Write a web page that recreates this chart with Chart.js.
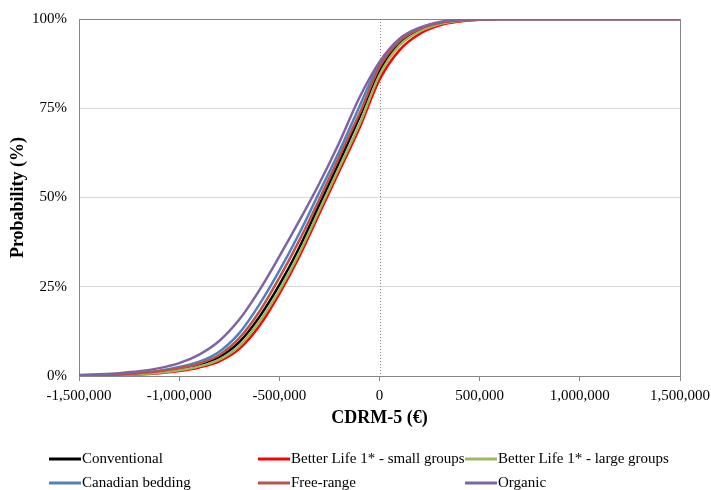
<!DOCTYPE html>
<html>
<head>
<meta charset="utf-8">
<script src="https://cdn.jsdelivr.net/npm/chart.js@4.4.1/dist/chart.umd.min.js"></script>
<style>
  html, body { margin: 0; padding: 0; background: #fff; }
  #wrap { width: 711px; height: 490px; }
</style>
</head>
<body>
<div id="wrap"><canvas id="grafico" width="711" height="490"></canvas></div>
<script>
// CDRM-5 (€) en el eje x, probabilidad acumulada (%) en el eje y
const xValues = [-1500000, -1400000, -1300000, -1200000, -1100000, -1000000, -900000, -800000,
  -700000, -600000, -500000, -400000, -300000, -200000, -100000, 0, 100000, 200000, 300000,
  400000, 500000, 600000, 1500000];

const conventional = [0.1, 0.2, 0.4, 0.7, 1.2, 2.0, 3.2, 5.3, 9.5, 16.5, 25.5, 36, 48, 60, 72.5, 85.5, 93.3, 96.8, 98.8, 99.6, 99.9, 100, 100];
const blSmall = [0.05, 0.1, 0.2, 0.4, 0.8, 1.4, 2.4, 4.1, 7.6, 14, 23, 33.5, 45.5, 57.5, 69.5, 83, 91.3, 95.8, 98.2, 99.3, 99.8, 100, 100];
const blLarge = [0.05, 0.1, 0.3, 0.5, 0.9, 1.6, 2.7, 4.6, 8.4, 15.2, 24, 34.5, 46.5, 58.5, 70.5, 84.3, 92.6, 96.5, 98.6, 99.5, 99.9, 100, 100];
const canadian = [0.15, 0.3, 0.5, 0.9, 1.5, 2.5, 4.0, 6.8, 12, 20, 29.5, 40, 51.5, 63, 75.5, 87.5, 94, 97.3, 99, 99.7, 99.9, 100, 100];
const freeRange = [0.1, 0.2, 0.4, 0.8, 1.3, 2.2, 3.5, 5.9, 10.6, 18, 27.5, 38, 49.5, 61.5, 73.5, 86.5, 93.8, 97.2, 98.9, 99.6, 99.9, 100, 100];
const organic = [0.3, 0.5, 0.8, 1.3, 2.2, 3.6, 6.0, 9.8, 15.8, 24, 33.5, 43.5, 54, 65.5, 78, 88, 94.5, 97.6, 99.2, 99.8, 100, 100, 100];

const seriesNames = ['Conventional', 'Better Life 1* - small groups', 'Better Life 1* - large groups',
  'Canadian bedding', 'Free-range', 'Organic'];
const seriesValues = [conventional, blSmall, blLarge, canadian, freeRange, organic];
const seriesColors = ['#000000', '#ff0000', '#9bbb59', '#4f81bd', '#c0504d', '#8064a2'];

const xTicks = [-1500000, -1000000, -500000, 0, 500000, 1000000, 1500000];
const yTicks = [0, 25, 50, 75, 100];

const FONT = "'Liberation Serif', 'Times New Roman', serif";

// línea punteada en x = 0, borde derecho y leyenda en 3 columnas
const extras = {
  id: 'extras',
  beforeDatasetsDraw(chart) {
    const { ctx, chartArea, scales } = chart;
    const x0 = scales.x.getPixelForValue(0);
    ctx.save();
    ctx.strokeStyle = '#808080';
    ctx.lineWidth = 1;
    ctx.setLineDash([1, 2]);
    ctx.beginPath();
    ctx.moveTo(Math.round(x0) + 0.5, chartArea.top);
    ctx.lineTo(Math.round(x0) + 0.5, chartArea.bottom);
    ctx.stroke();
    ctx.setLineDash([]);
    ctx.strokeStyle = '#868686';
    ctx.beginPath();
    ctx.moveTo(Math.round(chartArea.right) + 0.5, chartArea.top);
    ctx.lineTo(Math.round(chartArea.right) + 0.5, chartArea.bottom);
    ctx.stroke();
    ctx.restore();
  },
  afterDraw(chart) {
    const { ctx } = chart;
    const cols = [49, 258, 465];
    const rows = [459, 483];
    ctx.save();
    ctx.font = '15px ' + FONT;
    ctx.fillStyle = '#000';
    ctx.textBaseline = 'middle';
    chart.data.datasets.forEach((ds, i) => {
      const x = cols[i % 3];
      const y = rows[Math.floor(i / 3)];
      ctx.strokeStyle = ds.borderColor;
      ctx.lineWidth = 3;
      ctx.beginPath();
      ctx.moveTo(x, y);
      ctx.lineTo(x + 32, y);
      ctx.stroke();
      ctx.fillText(ds.label, x + 33, y);
    });
    ctx.restore();
  }
};

const chart = new Chart(document.getElementById('grafico'), {
  type: 'line',
  data: {
    datasets: seriesNames.map((name, i) => ({
      label: name,
      data: xValues.map((x, j) => ({ x: x, y: seriesValues[i][j] })),
      borderColor: seriesColors[i],
      backgroundColor: seriesColors[i],
      borderWidth: 2.5,
      pointRadius: 0,
      cubicInterpolationMode: 'monotone',
      fill: false,
      order: 6 - i
    }))
  },
  options: {
    responsive: false,
    animation: false,
    events: [],
    layout: { padding: { left: 0, top: 19, right: 31, bottom: 58 } },
    plugins: {
      legend: { display: false },
      tooltip: { enabled: false }
    },
    scales: {
      x: {
        type: 'linear',
        min: -1500000,
        max: 1500000,
        afterFit: s => { s.height = 56; s.paddingLeft = 0; s.paddingRight = 0; },
        afterBuildTicks: s => { s.ticks = xTicks.map(v => ({ value: v })); },
        ticks: {
          color: '#000',
          font: { family: FONT, size: 15 },
          padding: 6,
          maxRotation: 0,
          callback: v => v.toLocaleString('en-US')
        },
        grid: { drawOnChartArea: false, drawTicks: true, tickLength: 5, color: '#868686' },
        border: { color: '#868686' },
        title: {
          display: true,
          text: 'CDRM-5 (€)',
          color: '#000',
          font: { family: FONT, size: 18, weight: 'bold' },
          padding: { top: 0, bottom: 3 }
        }
      },
      y: {
        min: 0,
        max: 100,
        afterFit: s => { s.width = 79; s.paddingTop = 0; s.paddingBottom = 0; },
        afterBuildTicks: s => { s.ticks = yTicks.map(v => ({ value: v })); },
        ticks: {
          color: '#000',
          font: { family: FONT, size: 15 },
          padding: 12,
          callback: v => v + '%'
        },
        grid: {
          drawTicks: false,
          color: c => (c.tick && c.tick.value === 100 ? '#868686' : (c.tick && c.tick.value === 0 ? 'rgba(0,0,0,0)' : '#d9d9d9'))
        },
        border: { color: '#868686' },
        title: {
          display: true,
          text: 'Probability (%)',
          color: '#000',
          font: { family: FONT, size: 18, weight: 'bold' },
          padding: { top: 8, bottom: 0 }
        }
      }
    }
  },
  plugins: [extras]
});
</script>
</body>
</html>
